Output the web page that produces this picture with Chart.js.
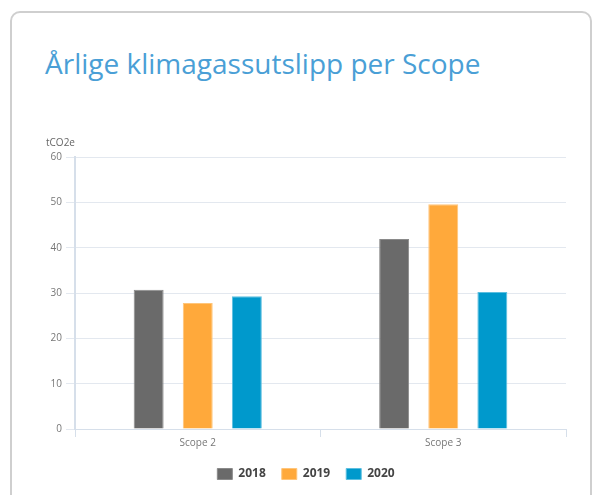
<!DOCTYPE html>
<html lang="no">
<head>
    <meta charset="UTF-8">
    <title>Årlige klimagassutslipp per Scope</title>
    <script src="https://cdn.jsdelivr.net/npm/chart.js@4"></script>
    <style>
        body { margin: 0; background: #fff; font-family: "Open Sans", sans-serif; }
        .card {
            position: absolute; left: 10px; top: 11px; width: 582px; height: 520px;
            border: 2px solid #cfcfcf; border-radius: 10px; box-sizing: border-box;
        }
        h1 {
            position: absolute; left: 45px; top: 44px; margin: 0;
            font-weight: 400; font-size: 28px; color: #4a9fd6; white-space: nowrap;
        }
        .chart-box { position: absolute; left: 46px; top: 137px; width: 524px; height: 353px; }
    </style>
</head>
<body>
    <div class="card"></div>
    <h1>Årlige klimagassutslipp per Scope</h1>
    <div class="chart-box"><canvas id="chart"></canvas></div>

    <script>
        // Data
        const categories = ['Scope 2', 'Scope 3'];
        const years = ['2018', '2019', '2020'];
        const values2018 = [30.7, 41.9];
        const values2019 = [27.8, 49.6];
        const values2020 = [29.3, 30.2];
        const yTicks = [0, 10, 20, 30, 40, 50, 60];

        const fills = ['#6a6a6a', '#ffa93b', '#0099cc'];
        const edges = ['#8a8a8a', '#ffc57a', '#5cbfe0'];
        const series = [values2018, values2019, values2020];

        new Chart(document.getElementById('chart'), {
            type: 'bar',
            data: {
                labels: categories,
                datasets: years.map((y, i) => ({
                    label: y,
                    data: series[i],
                    backgroundColor: fills[i],
                    borderColor: edges[i],
                    borderWidth: 1,
                    categoryPercentage: 0.6,
                    barPercentage: 0.61
                }))
            },
            options: {
                responsive: true,
                maintainAspectRatio: false,
                animation: false,
                layout: { padding: { right: 4 } },
                plugins: {
                    title: {
                        display: true,
                        text: 'tCO2e',
                        align: 'start',
                        color: '#666',
                        font: { family: 'Open Sans', size: 10, weight: 'normal' },
                        padding: { top: 0, bottom: 8 }
                    },
                    legend: {
                        position: 'bottom',
                        labels: {
                            boxWidth: 15,
                            boxHeight: 11,
                            padding: 16,
                            color: '#444',
                            font: { family: 'Open Sans', size: 12, weight: 'bold' }
                        }
                    },
                    tooltip: { enabled: false }
                },
                scales: {
                    x: {
                        // a little extra room between the category labels and the legend
                        afterFit: axis => { axis.height += 3; },
                        grid: { drawOnChartArea: false, tickLength: 8, color: '#d6dfea' },
                        border: { color: '#d6dfea' },
                        ticks: { color: '#777', font: { family: 'Open Sans', size: 10 }, padding: 0 }
                    },
                    y: {
                        min: 0,
                        max: 60,
                        afterFit: axis => { axis.width = 29; },
                        afterBuildTicks: axis => { axis.ticks = yTicks.map(v => ({ value: v })); },
                        grid: { color: '#e3e8ef', tickLength: 9 },
                        border: { color: '#d6dfea', width: 2 },
                        ticks: { color: '#777', font: { family: 'Open Sans', size: 10 }, padding: 4 }
                    }
                }
            }
        });
    </script>
</body>
</html>
